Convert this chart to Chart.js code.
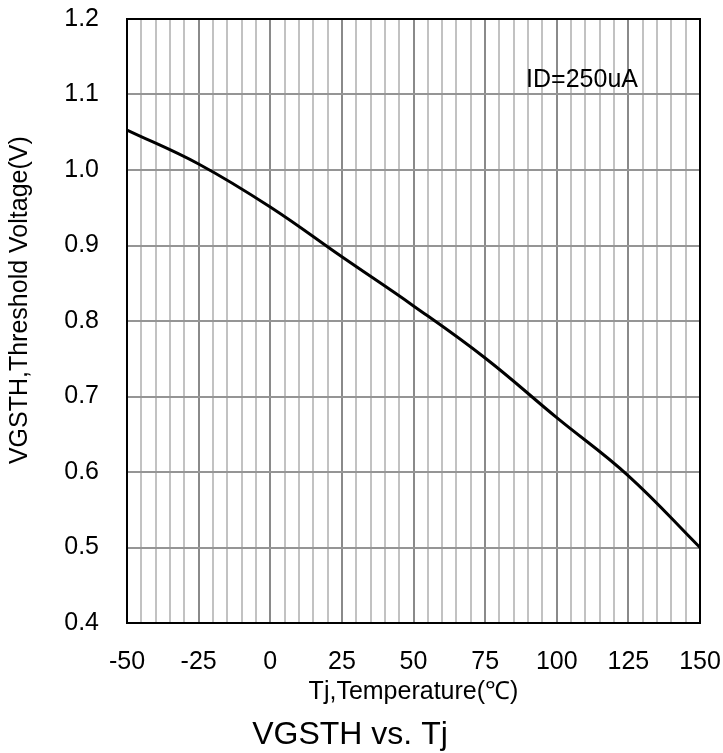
<!DOCTYPE html>
<html>
<head>
<meta charset="utf-8">
<script src="https://cdn.jsdelivr.net/npm/chart.js@4/dist/chart.umd.min.js"></script>
<style>
  html, body { margin: 0; padding: 0; background: #fff; }
  #wrap { width: 723px; height: 753px; }
</style>
</head>
<body>
<div id="wrap"><canvas id="vgsthChart"></canvas></div>
<script>
// VGSTH vs. Tj chart

const tempC = [-50, -25, 0, 25, 50, 75, 100, 125, 150];
const vgsth = [1.053, 1.008, 0.951, 0.885, 0.820, 0.751, 0.672, 0.595, 0.500];
const xTickLabels = [-50, -25, 0, 25, 50, 75, 100, 125, 150];
const yTickLabels = [0.4, 0.5, 0.6, 0.7, 0.8, 0.9, 1.0, 1.1, 1.2];
const noteText = 'ID=250uA';
const noteAt = { x: 89.3, y: 1.119 };

const FONT = "'Liberation Sans', Arial, sans-serif";

// frame round the plot area + the ID note
const framePlugin = {
    id: 'frame',
    afterDraw(chart) {
        const { ctx, chartArea, scales } = chart;
        ctx.save();
        ctx.strokeStyle = '#000';
        ctx.lineWidth = 2;
        ctx.strokeRect(chartArea.left, chartArea.top, chartArea.right - chartArea.left, chartArea.bottom - chartArea.top);
        ctx.fillStyle = '#000';
        ctx.font = '25px ' + FONT;
        ctx.textAlign = 'left';
        ctx.textBaseline = 'middle';
        ctx.fillText(noteText, scales.x.getPixelForValue(noteAt.x), scales.y.getPixelForValue(noteAt.y));
        ctx.restore();
    }
};

new Chart(document.getElementById('vgsthChart'), {
    type: 'line',
    data: {
        datasets: [
            {
                label: 'VGSTH',
                data: tempC.map((t, i) => ({ x: t, y: vgsth[i] })),
                borderColor: '#000',
                borderWidth: 3,
                pointRadius: 0,
                fill: false,
                tension: 0.4
            }
        ]
    },
    options: {
        responsive: true,
        maintainAspectRatio: false,
        animation: false,
        layout: {
            padding: { top: 19, right: 23, left: 0, bottom: 0 }
        },
        plugins: {
            legend: { display: false },
            tooltip: { enabled: false },
            title: {
                display: true,
                position: 'bottom',
                text: 'VGSTH vs. Tj',
                color: '#000',
                font: { family: FONT, size: 32, weight: 'normal', lineHeight: 1 },
                padding: { top: 0, bottom: 2 }
            }
        },
        scales: {
            x: {
                type: 'linear',
                min: -50,
                max: 150,
                afterFit(scale) {
                    scale.height = 96;
                    scale.paddingLeft = 0;
                    scale.paddingRight = 0;
                },
                border: { display: false },
                grid: {
                    drawTicks: false,
                    lineWidth: 2,
                    color: (c) => (xTickLabels.includes(c.tick.value) ? '#8a8a8a' : '#c2c2c2')
                },
                ticks: {
                    stepSize: 5,
                    autoSkip: false,
                    maxRotation: 0,
                    padding: 24,
                    color: '#000',
                    font: { family: FONT, size: 25 },
                    callback: (v) => (xTickLabels.includes(v) ? String(v) : '')
                },
                title: {
                    display: true,
                    text: 'Tj,Temperature(℃)',
                    color: '#000',
                    font: { family: FONT, size: 25, lineHeight: 1.2 },
                    padding: { top: 0, bottom: 12 }
                }
            },
            y: {
                min: 0.4,
                max: 1.2,
                afterFit(scale) {
                    scale.width = 127;
                    scale.paddingTop = 0;
                    scale.paddingBottom = 0;
                },
                border: { display: false },
                grid: {
                    drawTicks: false,
                    lineWidth: 2,
                    color: '#959595'
                },
                ticks: {
                    stepSize: 0.1,
                    padding: 28,
                    color: '#000',
                    font: { family: FONT, size: 25 },
                    callback: (v) => {
                        const hit = yTickLabels.find(t => Math.abs(t - v) < 1e-6);
                        return hit === undefined ? '' : hit.toFixed(1);
                    }
                },
                title: {
                    display: true,
                    text: '      VGSTH,Threshold Voltage(V)',
                    color: '#000',
                    font: { family: FONT, size: 25, lineHeight: 1.2 },
                    padding: { top: 5, bottom: 0 }
                }
            }
        }
    },
    plugins: [framePlugin]
});
</script>
</body>
</html>
